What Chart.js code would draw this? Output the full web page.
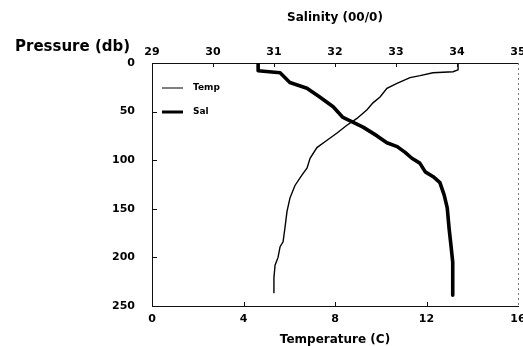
<!DOCTYPE html>
<html lang="en">

<head>
    <meta charset="UTF-8">
    <title>Pressure profile</title>
    <script src="https://cdn.jsdelivr.net/npm/chart.js@4"></script>
    <style>
        body {
            margin: 0;
            background: #fff;
        }
    </style>
</head>

<body>
    <canvas id="profile" width="523" height="346"></canvas>

    <script>
        // temperature cast (pressure in db, temperature in C)
        const tempPressure = [0, 7, 9, 10, 13, 15, 21, 26, 35, 41, 48, 57, 64, 72, 81, 87, 98, 108, 115, 126, 139, 153, 170, 184, 189, 200, 208, 221, 237];
        const tempValues = [13.38, 13.38, 13.16, 12.28, 11.72, 11.28, 10.71, 10.27, 9.97, 9.66, 9.40, 8.96, 8.52, 8.09, 7.56, 7.21, 6.91, 6.78, 6.56, 6.25, 6.03, 5.90, 5.81, 5.73, 5.60, 5.51, 5.38, 5.33, 5.33];

        // salinity cast (pressure in db, salinity in 00/0)
        const salPressure = [0, 8, 10, 20, 26, 35, 45, 56, 61, 66, 75, 82, 86, 92, 98, 103, 112, 117, 123, 136, 149, 170, 187, 205, 221, 239];
        const salValues = [30.74, 30.74, 31.10, 31.26, 31.54, 31.75, 31.97, 32.13, 32.30, 32.46, 32.69, 32.85, 33.02, 33.15, 33.26, 33.39, 33.48, 33.61, 33.72, 33.79, 33.84, 33.87, 33.90, 33.93, 33.93, 33.93];

        const seriesNames = ['Temp', 'Sal'];
        const pressureTitle = 'Pressure (db)';
        const tempTitle = 'Temperature (C)';
        const salTitle = 'Salinity (00/0)';

        const FONT = 'DejaVu Sans';
        const tickFont = { family: FONT, weight: 'bold', size: 11 };

        function toPoints(xs, ps) {
            return xs.map((v, i) => ({ x: v, y: ps[i] }));
        }

        // fixed axis sizes so the plot box stays put
        function fixSize(size) {
            return function (scale) {
                if (scale.isHorizontal()) scale.height = size;
                else scale.width = size;
                scale.paddingLeft = 0;
                scale.paddingRight = 0;
                scale.paddingTop = 0;
                scale.paddingBottom = 0;
            };
        }

        // short tick marks pointing into the plot, right frame edge, legend, y title
        const frameExtras = {
            id: 'frameExtras',
            afterDraw(chart) {
                const ctx = chart.ctx;
                const a = chart.chartArea;
                ctx.save();
                ctx.strokeStyle = '#111';
                ctx.lineWidth = 1;

                const y = chart.scales.y;
                y.ticks.forEach(t => {
                    if (t.value <= y.min || t.value >= y.max) return;
                    const py = Math.round(y.getPixelForValue(t.value)) + 0.5;
                    ctx.beginPath();
                    ctx.moveTo(a.left, py);
                    ctx.lineTo(a.left + 5, py);
                    ctx.stroke();
                });
                ['xSal', 'xTemp'].forEach(id => {
                    const s = chart.scales[id];
                    const top = s.position === 'top';
                    s.ticks.forEach(t => {
                        if (t.value <= s.min || t.value >= s.max) return;
                        const px = Math.round(s.getPixelForValue(t.value)) + 0.5;
                        ctx.beginPath();
                        ctx.moveTo(px, top ? a.top : a.bottom);
                        ctx.lineTo(px, top ? a.top + 4 : a.bottom - 4);
                        ctx.stroke();
                    });
                });

                // right edge is a faint dotted line
                ctx.strokeStyle = '#777';
                ctx.setLineDash([2, 3]);
                ctx.beginPath();
                ctx.moveTo(a.right + 0.5, a.top);
                ctx.lineTo(a.right + 0.5, a.bottom);
                ctx.stroke();
                ctx.setLineDash([]);

                // legend in the upper left corner
                ctx.fillStyle = '#000';
                ctx.font = 'bold 9px "' + FONT + '"';
                ctx.textBaseline = 'middle';
                ctx.textAlign = 'left';
                chart.data.datasets.forEach((ds, i) => {
                    const ly = a.top + 25 + i * 24;
                    ctx.strokeStyle = ds.borderColor;
                    ctx.lineWidth = ds.legendWidth;
                    ctx.beginPath();
                    ctx.moveTo(a.left + 10, ly);
                    ctx.lineTo(a.left + 31, ly);
                    ctx.stroke();
                    ctx.fillText(ds.label, a.left + 41, ly);
                });

                // y axis title sits above the axis, not rotated
                ctx.font = 'bold 15px "' + FONT + '"';
                ctx.fillText(pressureTitle, 15, a.top - 16);
                ctx.restore();
            }
        };

        const config = {
            type: 'scatter',
            data: {
                datasets: [
                    {
                        label: seriesNames[0],
                        data: toPoints(tempValues, tempPressure),
                        xAxisID: 'xTemp',
                        borderColor: '#000',
                        borderWidth: 1.4,
                        legendWidth: 1,
                        showLine: true,
                        pointRadius: 0,
                        tension: 0,
                    },
                    {
                        label: seriesNames[1],
                        data: toPoints(salValues, salPressure),
                        xAxisID: 'xSal',
                        borderColor: '#000',
                        borderWidth: 3.6,
                        legendWidth: 3,
                        borderJoinStyle: 'round',
                        borderCapStyle: 'round',
                        showLine: true,
                        pointRadius: 0,
                        tension: 0,
                    },
                ]
            },
            options: {
                responsive: false,
                animation: false,
                devicePixelRatio: 1,
                layout: { padding: { left: 0, right: 5, top: 0, bottom: 0 } },
                plugins: {
                    legend: { display: false },
                    tooltip: { enabled: false },
                },
                scales: {
                    y: {
                        type: 'linear',
                        position: 'left',
                        reverse: true,
                        min: 0,
                        max: 250,
                        ticks: { stepSize: 50, padding: 17, color: '#000', font: tickFont },
                        grid: { display: false, drawTicks: false },
                        border: { display: true, color: '#111', width: 1 },
                        afterFit: fixSize(152),
                    },
                    xSal: {
                        type: 'linear',
                        position: 'top',
                        min: 29,
                        max: 35,
                        ticks: { stepSize: 1, padding: 4, color: '#000', font: tickFont, maxRotation: 0 },
                        grid: { display: false, drawTicks: false },
                        border: { display: true, color: '#111', width: 1 },
                        title: {
                            display: true,
                            text: salTitle,
                            color: '#000',
                            font: { family: FONT, weight: 'bold', size: 12, lineHeight: 1 },
                            padding: { top: 12, bottom: 0 },
                        },
                        afterFit: fixSize(63),
                    },
                    xTemp: {
                        type: 'linear',
                        position: 'bottom',
                        min: 0,
                        max: 16,
                        ticks: { stepSize: 4, padding: 7, color: '#000', font: tickFont, maxRotation: 0 },
                        grid: { display: false, drawTicks: false },
                        border: { display: true, color: '#111', width: 1 },
                        title: {
                            display: true,
                            text: tempTitle,
                            color: '#000',
                            font: { family: FONT, weight: 'bold', size: 12, lineHeight: 1 },
                            padding: { top: 0, bottom: 0 },
                        },
                        afterFit: fixSize(40),
                    },
                }
            },
            plugins: [frameExtras]
        };

        const profileChart = new Chart(document.getElementById('profile'), config);
    </script>
</body>

</html>
